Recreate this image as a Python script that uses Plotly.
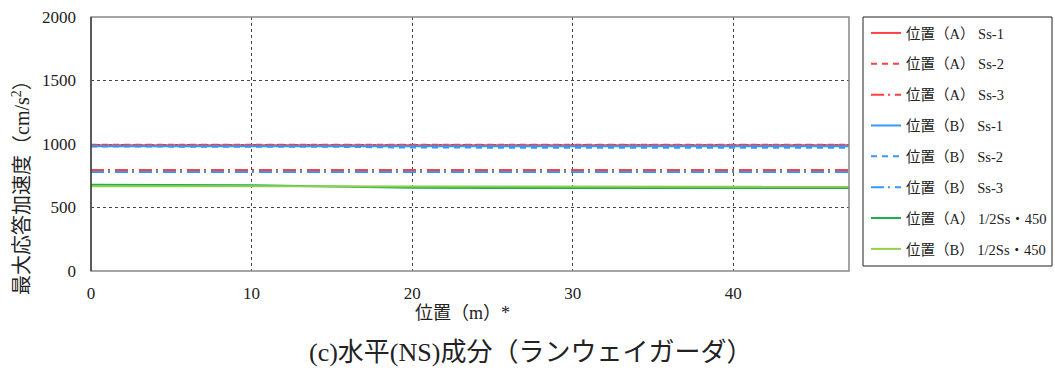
import plotly.graph_objects as go

# ---- data ----
positions = [0, 5, 10, 15, 20, 25, 30, 35, 40, 47.2]

a_ss1 = [990, 990, 990, 990, 990, 990, 990, 990, 990, 990]
a_ss2 = [995, 995, 995, 995, 995, 995, 995, 995, 995, 995]
a_ss3 = [795, 795, 795, 795, 795, 795, 795, 795, 795, 795]
b_ss1 = [982, 982, 982, 982, 982, 982, 982, 982, 982, 982]
b_ss2 = [980, 980, 980, 978, 972, 970, 970, 970, 970, 970]
b_ss3 = [780, 780, 780, 780, 780, 780, 780, 780, 780, 780]
a_half = [680, 680, 675, 665, 655, 654, 654, 654, 654, 654]
b_half = [667, 667, 667, 666, 665, 664, 664, 664, 664, 664]

series_names = [
    "位置（A） Ss-1", "位置（A） Ss-2", "位置（A） Ss-3",
    "位置（B） Ss-1", "位置（B） Ss-2", "位置（B） Ss-3",
    "位置（A） 1/2Ss・450", "位置（B） 1/2Ss・450",
]
series_values = [a_ss1, a_ss2, a_ss3, b_ss1, b_ss2, b_ss3, a_half, b_half]

x_ticks = [0, 10, 20, 30, 40]
y_ticks = [0, 500, 1000, 1500, 2000]

# ---- styles ----
RED = "#ff4040"
BLUE = "#3399ff"
DGREEN = "#1db050"
LGREEN = "#92d050"
DASH = "6px,5px"
DASHDOT = "13px,4px,2px,5px"
styles = [
    (RED, "solid"), (RED, DASH), (RED, DASHDOT),
    (BLUE, "solid"), (BLUE, DASH), (BLUE, DASHDOT),
    (DGREEN, "solid"), (LGREEN, "solid"),
]

FONT = "Liberation Serif, 'Noto Sans CJK JP', serif"

# plot-area geometry in pixels
L, R, T, B = 91, 849, 17, 271
PW, PH = R - L, B - T


def px_x(px):
    return (px - L) / PW


def px_y(py):
    return (B - py) / PH


fig = go.Figure()
for i, (name, vals) in enumerate(zip(series_names, series_values)):
    color, dash = styles[i]
    fig.add_trace(go.Scatter(
        x=positions, y=vals, mode="lines", name=name,
        legendgroup=f"g{i}",
        line=dict(color=color, width=2, dash=dash),
    ))

grid = dict(showgrid=True, gridcolor="#444", gridwidth=1, griddash="dot")

fig.update_layout(
    width=1055, height=371, autosize=False,
    margin=dict(l=L, r=1055 - R, t=T, b=371 - B, autoexpand=False),
    paper_bgcolor="white", plot_bgcolor="white",
    font=dict(family=FONT, size=17, color="#222"),
    showlegend=True,
    legend=dict(
        x=px_x(866), xanchor="left", y=px_y(17), yanchor="top",
        borderwidth=0, bgcolor="rgba(0,0,0,0)",
        font=dict(family=FONT, size=14.5, color="#222"),
        traceorder="grouped", tracegroupgap=9,
        itemwidth=30, maxheight=400,
    ),
    xaxis=dict(
        range=[0, 47.2], tickvals=x_ticks, ticks="", ticklabelstandoff=10,
        zeroline=False, showline=False, **grid,
    ),
    yaxis=dict(
        range=[0, 2000], tickvals=y_ticks, ticks="", ticklabelstandoff=14,
        zeroline=False, showline=False, **grid,
    ),
    shapes=[
        dict(type="rect", xref="paper", yref="paper", x0=0, x1=1, y0=0, y1=1,
             line=dict(color="#888", width=1.5), layer="above"),
        dict(type="line", xref="paper", yref="paper", x0=0, x1=0, y0=0, y1=1,
             line=dict(color="#111", width=1), layer="above"),
        dict(type="rect", xref="paper", yref="paper",
             x0=px_x(863), x1=px_x(1052), y0=px_y(266), y1=px_y(17),
             line=dict(color="#222", width=1), layer="above"),
    ],
    annotations=[
        dict(text="最大応答加速度（cm/s<sup>2</sup>）", textangle=-90,
             xref="paper", yref="paper", x=px_x(21), y=px_y(183),
             xanchor="center", yanchor="middle", showarrow=False,
             font=dict(family=FONT, size=20, color="#222")),
        dict(text="位置（m）*", xref="paper", yref="paper",
             x=px_x(462), y=px_y(313),
             xanchor="center", yanchor="middle", showarrow=False,
             font=dict(family=FONT, size=18, color="#222")),
        dict(text="(c)水平(NS)成分（ランウェイガーダ）", xref="paper", yref="paper",
             x=px_x(530), y=px_y(353),
             xanchor="center", yanchor="middle", showarrow=False,
             font=dict(family=FONT, size=26, color="#222")),
    ],
)

fig.write_html("out.html")
